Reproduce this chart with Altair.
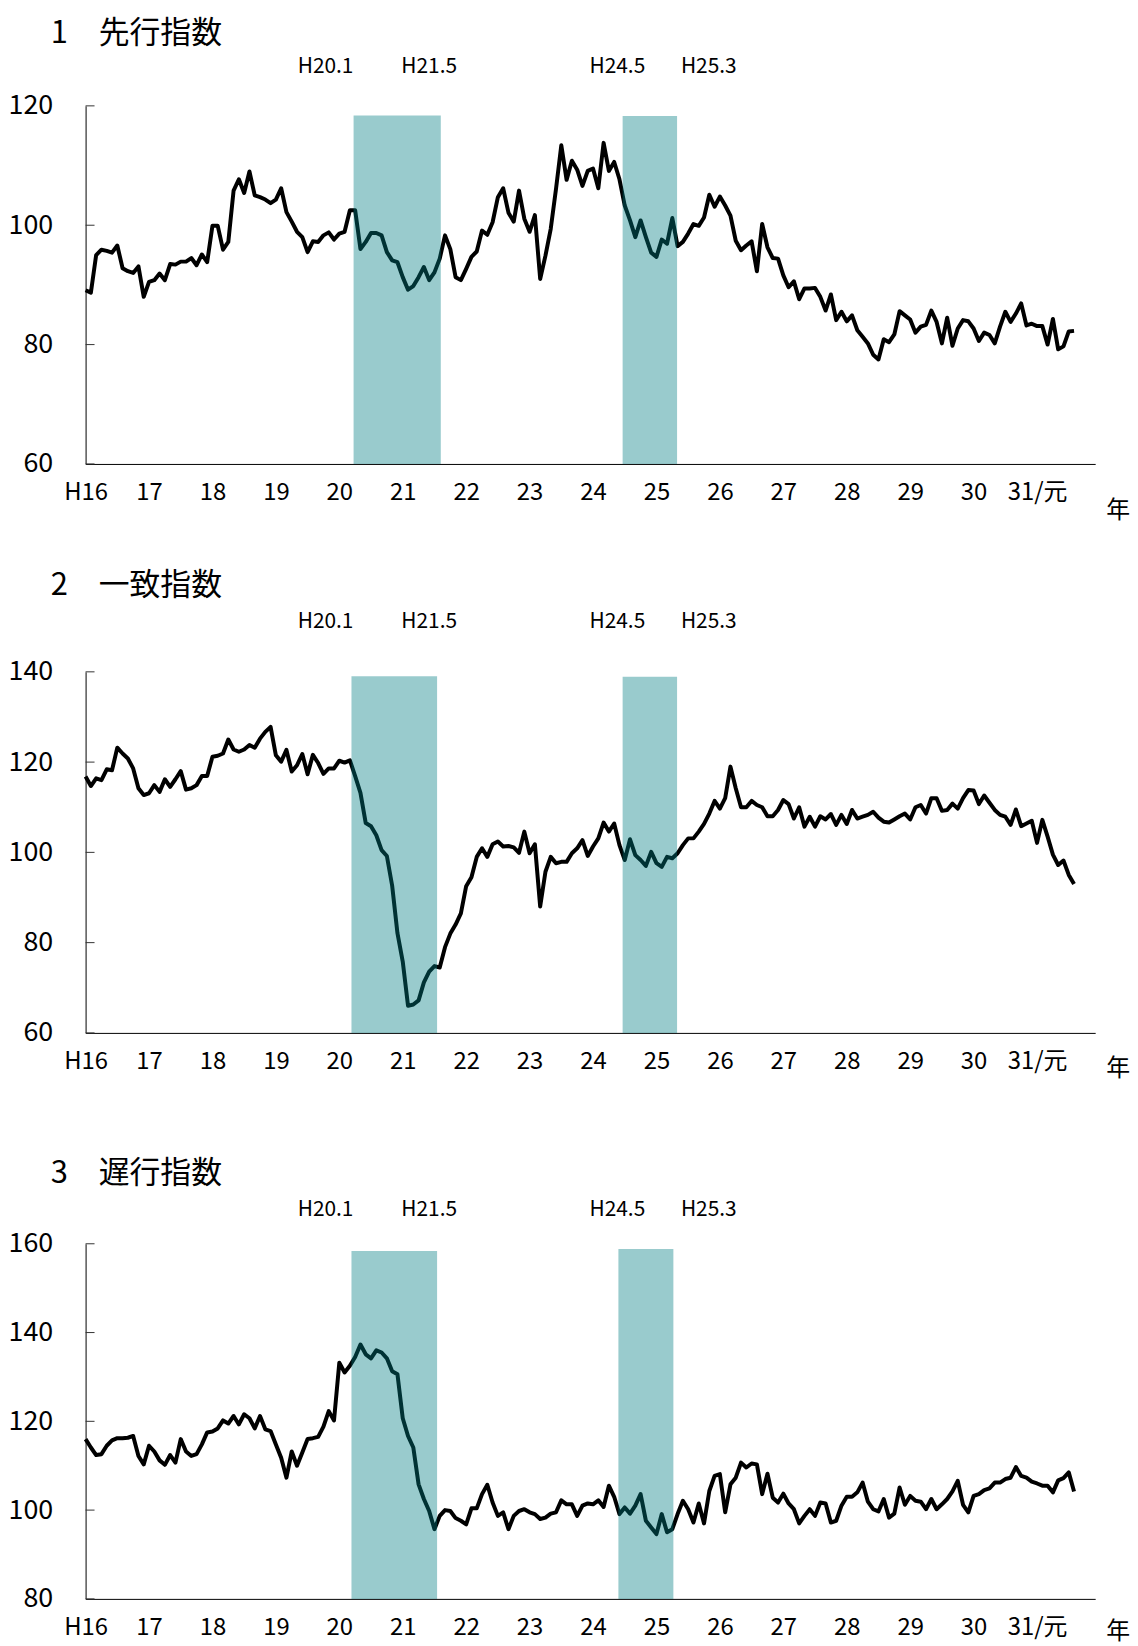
import altair as alt
import pandas as pd

FONT = "Noto Sans CJK JP"

# x-axis tick labels (one per January, starting H16.1)
x_labels = ["H16", "17", "18", "19", "20", "21", "22", "23", "24", "25",
            "26", "27", "28", "29", "30", "31/元"]

titles = ["1　先行指数", "2　一致指数", "3　遅行指数"]

# recession annotation labels and where they sit (months from H16.1)
ann_labels = ["H20.1", "H21.5", "H24.5", "H25.3"]
ann_pos = [45.4, 65.0, 100.6, 117.9]

# monthly index values from H16.1
leading = [
    89.1, 88.7, 95.0, 95.9, 95.7, 95.4, 96.6, 92.8, 92.3, 92.0, 93.1, 88.0,
    90.5, 90.8, 91.9, 90.8, 93.5, 93.4, 93.9, 93.9, 94.5, 93.3, 95.1, 93.8,
    99.9, 99.9, 95.9, 97.2, 105.8, 107.7, 105.4, 109.0, 105.0, 104.7, 104.3, 103.7,
    104.3, 106.2, 102.2, 100.6, 98.9, 98.0, 95.5, 97.3, 97.2, 98.3, 98.8, 97.6,
    98.6, 98.9, 102.5, 102.5, 96.0, 97.2, 98.7, 98.7, 98.3, 95.5, 94.1, 93.8,
    91.3, 89.2, 89.8, 91.3, 93.0, 90.8, 92.1, 94.4, 98.3, 96.0, 91.3, 90.8,
    92.7, 94.7, 95.6, 99.1, 98.4, 100.5, 104.7, 106.2, 102.1, 100.6, 105.8, 101.1,
    98.9, 101.7, 91.0, 94.9, 99.4, 106.1, 113.4, 107.6, 110.8, 109.3, 106.6, 109.1,
    109.5, 106.2, 113.8, 109.1, 110.6, 107.7, 103.3, 100.8, 98.0, 100.8, 98.0, 95.4,
    94.7, 97.6, 96.9, 101.2, 96.5, 97.2, 98.6, 100.2, 99.9, 101.3, 105.1, 103.1,
    104.8, 103.3, 101.6, 97.4, 95.8, 96.6, 97.3, 92.3, 100.2, 96.3, 94.5, 94.4,
    91.6, 89.6, 90.6, 87.6, 89.4, 89.4, 89.5, 88.0, 85.7, 88.4, 84.1, 85.5,
    83.9, 84.9, 82.4, 81.3, 80.2, 78.3, 77.5, 80.9, 80.4, 81.7, 85.6, 84.9,
    84.2, 82.0, 83.0, 83.3, 85.7, 83.8, 80.2, 84.5, 79.8, 82.7, 84.1, 83.9,
    82.7, 80.6, 82.0, 81.6, 80.2, 83.0, 85.5, 83.8, 85.2, 86.9, 83.2, 83.5,
    83.1, 83.1, 80.0, 84.3, 79.2, 79.7, 82.2, 82.3,
]

coincident = [
    116.8, 114.7, 116.4, 116.0, 118.4, 118.2, 123.2, 121.9, 120.8, 118.6, 114.2, 112.7,
    113.1, 114.9, 113.4, 116.2, 114.5, 116.2, 118.0, 113.9, 114.2, 114.9, 116.9, 116.9,
    121.2, 121.4, 121.9, 125.0, 122.8, 122.3, 122.8, 123.8, 123.2, 125.2, 126.7, 127.8,
    121.5, 120.1, 122.7, 117.9, 119.3, 121.8, 117.3, 121.6, 119.8, 117.4, 118.6, 118.6,
    120.3, 119.9, 120.4, 116.9, 113.2, 106.5, 105.8, 103.8, 100.5, 99.2, 92.6, 82.1,
    75.8, 66.0, 66.3, 67.2, 71.2, 73.6, 74.8, 74.5, 79.0, 82.0, 84.0, 86.5,
    92.5, 94.5, 99.0, 100.9, 99.0, 101.8, 102.4, 101.3, 101.4, 101.1, 99.9, 104.6,
    99.8, 101.8, 88.0, 95.7, 99.0, 97.6, 97.9, 97.9, 99.8, 100.9, 102.7, 99.2,
    101.3, 103.1, 106.6, 104.6, 106.4, 101.6, 98.3, 102.9, 99.4, 98.3, 97.0, 100.1,
    97.6, 96.8, 99.0, 98.7, 99.8, 101.6, 103.1, 103.1, 104.6, 106.3, 108.6, 111.4,
    109.7, 112.0, 119.0, 114.2, 110.0, 110.0, 111.4, 110.5, 110.0, 108.0, 108.0, 109.4,
    111.6, 110.7, 107.5, 110.0, 105.7, 107.9, 105.7, 108.0, 107.3, 108.5, 106.1, 108.3,
    106.3, 109.4, 107.5, 107.9, 108.3, 109.0, 107.7, 106.8, 106.6, 107.3, 108.0, 108.6,
    107.3, 110.0, 110.5, 108.6, 112.0, 112.0, 109.2, 109.4, 110.8, 109.7, 112.0, 113.8,
    113.7, 110.7, 112.6, 111.0, 109.4, 108.3, 107.9, 106.1, 109.5, 105.8, 106.4, 107.0,
    102.1, 107.2, 103.5, 99.5, 97.2, 98.2, 95.0, 93.0,
]

lagging = [
    116.0, 114.1, 112.4, 112.6, 114.5, 115.7, 116.2, 116.2, 116.3, 116.7, 112.2, 110.3,
    114.5, 113.2, 111.2, 110.2, 112.4, 110.7, 116.0, 113.2, 112.2, 112.6, 114.8, 117.5,
    117.7, 118.4, 120.2, 119.5, 121.2, 119.3, 121.6, 120.7, 118.4, 121.2, 118.2, 117.8,
    114.8, 111.8, 107.3, 113.2, 110.0, 113.0, 116.0, 116.2, 116.5, 118.8, 122.3, 120.2,
    133.2, 131.0, 132.5, 134.5, 137.3, 135.1, 134.2, 136.0, 135.5, 134.2, 131.3, 130.6,
    120.7, 116.7, 114.1, 105.8, 102.5, 99.8, 95.7, 98.7, 100.0, 99.8, 98.2, 97.6,
    96.8, 100.4, 100.4, 103.6, 105.7, 101.7, 98.7, 99.5, 95.7, 98.7, 99.8, 100.2,
    99.5, 99.1, 98.0, 98.3, 99.2, 99.5, 102.2, 101.3, 101.3, 98.7, 101.0, 101.5,
    101.3, 102.2, 100.7, 105.5, 103.0, 99.1, 100.6, 99.2, 101.0, 103.6, 97.6, 96.1,
    94.6, 99.1, 95.0, 95.7, 99.1, 102.1, 100.2, 97.2, 101.5, 97.0, 104.3, 107.7,
    108.1, 99.5, 105.8, 107.3, 110.7, 109.6, 110.5, 110.3, 103.6, 108.2, 102.8, 101.7,
    103.7, 101.5, 100.2, 97.0, 98.7, 100.2, 98.7, 101.7, 101.5, 97.2, 97.6, 101.0,
    103.0, 103.0, 104.0, 106.2, 101.9, 100.2, 99.7, 102.5, 98.3, 99.2, 105.1, 101.2,
    103.2, 102.1, 101.9, 100.2, 102.5, 100.2, 101.3, 102.5, 104.2, 106.6, 101.2, 99.5,
    103.2, 103.6, 104.5, 104.9, 106.2, 106.2, 107.0, 107.3, 109.7, 107.7, 107.3, 106.4,
    106.0, 105.5, 105.5, 104.0, 106.7, 107.2, 108.5, 104.2,
]

# shaded recession periods (start month, end month, top value) per panel
bands = [
    [(50.7, 67.2, 118.4), (101.6, 111.9, 118.3)],
    [(50.3, 66.5, 139.0), (101.6, 111.9, 138.9)],
    [(50.3, 66.5, 158.4), (100.8, 111.2, 158.8)],
]

y_domains = [(60, 120), (60, 140), (80, 160)]
y_ticks = [[60, 80, 100, 120], [60, 80, 100, 120, 140], [80, 100, 120, 140, 160]]
heights = [360, 363, 357]
series = [leading, coincident, lagging]

# per-panel text offsets (pixels relative to plot area)
title_y = [-72, -86, -70]
ann_y = [-39, -50, -34]
nen_dy = [47, 36, 33]

W = 1015
X_MAX = 191

labels_js = "[" + ",".join("'" + s + "'" for s in x_labels) + "]"
label_expr = labels_js + "[round(datum.value / 12)]"


def panel(k):
    lo, hi = y_domains[k]
    H = heights[k]
    xscale = alt.Scale(domain=[0, X_MAX], nice=False, zero=False)
    xaxis = alt.Axis(values=[12 * i for i in range(len(x_labels))], labelExpr=label_expr,
                     title=None, ticks=False, grid=False, domainColor="#000000",
                     labelFontSize=24, labelFont=FONT, labelColor="#000000",
                     labelPadding=17, labelFlush=False)
    yscale = alt.Scale(domain=[lo, hi], nice=False, zero=False)
    yaxis = alt.Axis(values=y_ticks[k], title=None, ticks=False, grid=False,
                     domainColor="#000000", labelFontSize=27, labelFont=FONT,
                     labelColor="#000000", labelPadding=33)
    xenc = alt.X("m:Q", scale=xscale, axis=xaxis)
    yenc = alt.Y("v:Q", scale=yscale, axis=yaxis)

    df = pd.DataFrame({"m": list(range(len(series[k]))), "v": series[k]})
    line = alt.Chart(df).mark_line(color="#000000", strokeWidth=4, strokeJoin="round").encode(
        x=xenc, y=yenc)

    bdf = pd.DataFrame({
        "m": [b[0] for b in bands[k]],
        "m2": [b[1] for b in bands[k]],
        "v": [b[2] for b in bands[k]],
        "v2": [lo for _ in bands[k]],
    })
    rect = alt.Chart(bdf).mark_rect(color="#007E81", opacity=0.4).encode(
        x=xenc, x2="m2:Q", y=yenc, y2="v2:Q")

    tdf = pd.DataFrame({"v": y_ticks[k]})
    ticks = alt.Chart(tdf).mark_rule(color="#333333", strokeWidth=1).encode(
        y=yenc, x=alt.value(0), x2=alt.value(9))

    title = alt.Chart(pd.DataFrame({"t": [titles[k]]})).mark_text(
        align="left", baseline="middle", fontSize=31, font=FONT, color="#000000").encode(
        x=alt.value(-35), y=alt.value(title_y[k]), text="t:N")

    adf = pd.DataFrame({"m": ann_pos, "t": ann_labels})
    ann = alt.Chart(adf).mark_text(
        align="center", baseline="middle", fontSize=21, font=FONT, color="#000000").encode(
        x=xenc, y=alt.value(ann_y[k]), text="t:N")

    nen = alt.Chart(pd.DataFrame({"t": ["年"]})).mark_text(
        align="center", baseline="middle", fontSize=24, font=FONT, color="#000000").encode(
        x=alt.value(1038), y=alt.value(H + nen_dy[k]), text="t:N")

    return alt.layer(line, rect, ticks, title, ann, nen).properties(width=W, height=H)


p1, p2, p3 = panel(0), panel(1), panel(2)

chart = alt.vconcat(
    alt.vconcat(p1, p2, spacing=48),
    p3,
    spacing=78,
).properties(
    padding={"left": 0, "top": 6, "right": 0, "bottom": 0},
    background="#ffffff",
).configure_view(strokeWidth=0)

chart.save("out.html", embed_options={"renderer": "svg", "actions": False})
